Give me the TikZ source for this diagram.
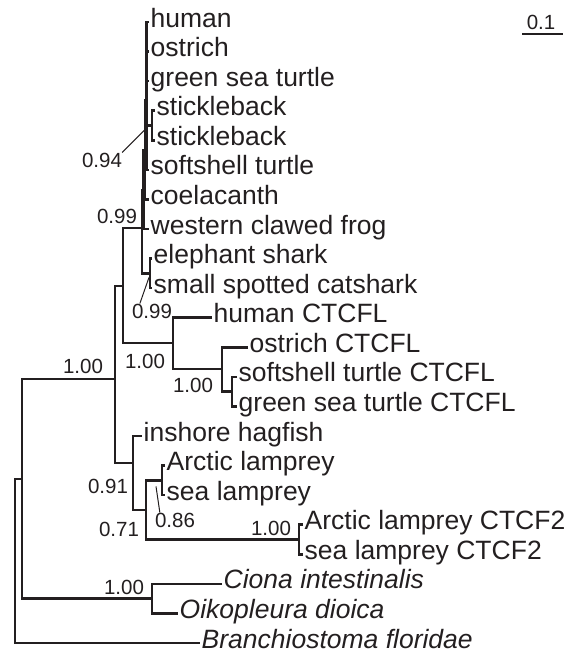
\documentclass[tikz,border=0pt]{standalone}
\usepackage{fontspec}
\setmainfont{Liberation Sans}
\definecolor{ink}{RGB}{35,31,32}
\begin{document}
\begin{tikzpicture}[x=1pt,y=-1pt,
  br/.style={draw=ink,line width=2.5pt,line join=miter},
  leaf/.style={anchor=base west,inner sep=0pt,xshift=1.5pt,yshift=-5pt,text=ink,font=\fontsize{26.5}{30}\selectfont},
  ital/.style={leaf,font=\fontsize{26.5}{30}\selectfont\itshape},
  supp/.style={inner sep=0pt,text=ink,font=\fontsize{20.5}{24}\selectfont},
  lead/.style={draw=ink,line width=1pt}]
\useasboundingbox (0,0) rectangle (585,654);
% leaf stub ends
\coordinate (l0) at (149,22);
\coordinate (l1) at (149,51.6);
\coordinate (l2) at (149,81.1);
\coordinate (l3) at (155,110.7);
\coordinate (l4) at (155,140.3);
\coordinate (l5) at (149,169.9);
\coordinate (l6) at (149,199.4);
\coordinate (l7) at (149,229);
\coordinate (l8) at (152,258.6);
\coordinate (l9) at (152,288.1);
\coordinate (l10) at (212,317.7);
\coordinate (l11) at (248,347.3);
\coordinate (l12) at (237,376.8);
\coordinate (l13) at (237,406.4);
\coordinate (l14) at (142,436);
\coordinate (l15) at (165,465.6);
\coordinate (l16) at (165,495.1);
\coordinate (l17) at (303,524.7);
\coordinate (l18) at (303,554.3);
\coordinate (l19) at (222,583.8);
\coordinate (l20) at (178,613.4);
\coordinate (l21) at (200,643);
% internal nodes (x of vertical, y of connection)
\coordinate (nR) at (15,561);
\coordinate (n22) at (22,479);
\coordinate (nL) at (152,598.6);
\coordinate (nB) at (115,379);
\coordinate (nA) at (123,286);
\coordinate (nD) at (142,228);
\coordinate (nQ1) at (143.5,190);
\coordinate (nQ2) at (145,150);
\coordinate (nQ3) at (146.5,100);
\coordinate (nE) at (150,273.4);
\coordinate (nS) at (152,125.5);
\coordinate (nC) at (173,343);
\coordinate (nF) at (222,369);
\coordinate (nG) at (232,391.6);
\coordinate (nH) at (133,463);
\coordinate (nI) at (146,510);
\coordinate (nJ) at (162,480.4);
\coordinate (nK) at (299,539.5);
% branches
\draw[br] (l0) -| (nQ3) |- (l5);
\draw[br] (nQ3 |- l1) -- (l1);
\draw[br] (nQ3 |- l2) -- (l2);
\draw[br] (nQ3 |- nS) -- (nS);
\draw[br] (l3) -| (nS) |- (l4);
\draw[br] (nQ3) -| (nQ2) |- (l6);
\draw[br] (nQ2) -| (nQ1) |- (l7);
\draw[br] (nQ1) -| (nD) |- (nE);
\draw[br] (l8) -| (nE) |- (l9);
\draw[br] (nD) -| (nA) |- (nC);
\draw[br] (l10) -| (nC) |- (nF);
\draw[br] (l11) -| (nF) |- (nG);
\draw[br] (l12) -| (nG) |- (l13);
\draw[br] (nA) -| (nB) |- (nH);
\draw[br] (l14) -| (nH) |- (nI);
\draw[br] (nJ) -| (nI) |- (nK);
\draw[br] (l15) -| (nJ) |- (l16);
\draw[br] (l17) -| (nK) |- (l18);
\draw[br] (nB) -| (n22) |- (nL);
\draw[br] (l19) -| (nL) |- (l20);
\draw[br] (n22) -| (nR) |- (l21);
% leaf labels
\node[leaf] (t0) at (l0) {human};
\node[leaf] (t1) at (l1) {ostrich};
\node[leaf] (t2) at (l2) {green sea turtle};
\node[leaf] (t3) at (l3) {stickleback};
\node[leaf] (t4) at (l4) {stickleback};
\node[leaf] (t5) at (l5) {softshell turtle};
\node[leaf] (t6) at (l6) {coelacanth};
\node[leaf] (t7) at (l7) {western clawed frog};
\node[leaf] (t8) at (l8) {elephant shark};
\node[leaf] (t9) at (l9) {small spotted catshark};
\node[leaf] (t10) at (l10) {human CTCFL};
\node[leaf] (t11) at (l11) {ostrich CTCFL};
\node[leaf] (t12) at (l12) {softshell turtle CTCFL};
\node[leaf] (t13) at (l13) {green sea turtle CTCFL};
\node[leaf] (t14) at (l14) {inshore hagfish};
\node[leaf] (t15) at (l15) {Arctic lamprey};
\node[leaf] (t16) at (l16) {sea lamprey};
\node[leaf] (t17) at (l17) {Arctic lamprey CTCF2};
\node[leaf] (t18) at (l18) {sea lamprey CTCF2};
\node[ital] (t19) at (l19) {Ciona intestinalis};
\node[ital] (t20) at (l20) {Oikopleura dioica};
\node[ital] (t21) at (l21) {Branchiostoma floridae};
% support values
\node[supp] (s94) at (102,160) {0.94};
\node[supp] (s99a) at (117,216) {0.99};
\node[supp] (s99b) at (152,311) {0.99};
\node[supp] (s100r) at (83,366) {1.00};
\node[supp] (s100c) at (145,361) {1.00};
\node[supp] (s100g) at (193,385) {1.00};
\node[supp] (s91) at (108,486) {0.91};
\node[supp] (s71) at (119,529) {0.71};
\node[supp] (s86) at (175,520) {0.86};
\node[supp] (s100k) at (271,528) {1.00};
\node[supp] (s100l) at (124,587) {1.00};
% leaders
\draw[lead] (s94.north east) -- ([xshift=-3pt]nS);
\draw[lead] ([xshift=8pt]s99b.north west) -- ([xshift=-1pt,yshift=-4pt]nE);
\draw[lead] ([xshift=5pt]s86.north west) -- ([xshift=-6pt,yshift=-6pt]nJ);
% scale bar
\node[supp] (sc) at (541,22) {0.1};
\coordinate (sb1) at (522,34);
\coordinate (sb2) at (563,34);
\draw[draw=ink,line width=2.8pt] (sb1) -- (sb2);
\end{tikzpicture}
\end{document}
